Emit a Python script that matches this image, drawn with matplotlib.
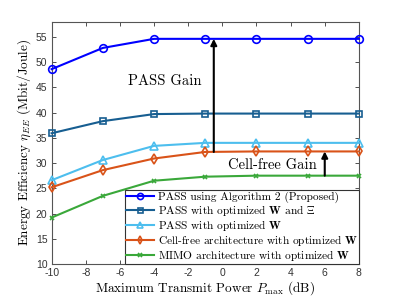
import matplotlib
matplotlib.use("Agg")
import matplotlib.pyplot as plt

plt.rcParams['mathtext.fontset'] = 'cm'
plt.rcParams['axes.formatter.use_mathtext'] = False

p_max = [-10, -7, -4, -1, 2, 5, 8]
pass_alg2 = [48.6, 52.8, 54.6, 54.6, 54.6, 54.6, 54.6]
pass_w_xi = [35.9, 38.3, 39.7, 39.8, 39.8, 39.8, 39.8]
pass_w = [26.6, 30.6, 33.4, 34.0, 34.0, 34.0, 34.0]
cellfree_w = [25.2, 28.6, 30.9, 32.2, 32.3, 32.3, 32.3]
mimo_w = [19.2, 23.5, 26.5, 27.3, 27.5, 27.5, 27.5]

labels = [r'PASS using Algorithm 2 (Proposed)',
          r'PASS with optimized $\mathbf{W}$ and $\Xi$',
          r'PASS with optimized $\mathbf{W}$',
          r'Cell-free architecture with optimized $\mathbf{W}$',
          r'MIMO architecture with optimized $\mathbf{W}$']
xticks = [-10, -8, -6, -4, -2, 0, 2, 4, 6, 8]
yticks = [10, 15, 20, 25, 30, 35, 40, 45, 50, 55]

serif = 'cmr10'

fig = plt.figure(figsize=(3.97, 2.97), dpi=100)
ax = fig.add_axes([0.130, 0.111, 0.774, 0.816])

series = [pass_alg2, pass_w_xi, pass_w, cellfree_w, mimo_w]
colors = ['#0000FF', '#175E91', '#4DBEEE', '#D95319', '#3AA83A']
markers = ['o', 's', '^', 'd', 'x']
msizes = [5.5, 4.5, 6, 5, 3.5]
for y, c, m, ms, lab in zip(series, colors, markers, msizes, labels):
    ax.plot(p_max, y, color=c, marker=m, markersize=ms, markerfacecolor='none',
            markeredgewidth=1.2, linewidth=1.5, label=lab, clip_on=False, zorder=3)

ax.set_xlim(-10, 8)
ax.set_ylim(10, 58)
ax.set_xticks(xticks)
ax.set_yticks(yticks)
ax.set_xticklabels([str(t) for t in xticks], family='Liberation Sans')
ax.set_yticklabels([str(t) for t in yticks], family='Liberation Sans')
ax.tick_params(direction='in', top=True, right=True, labelsize=7.5, colors='#333333',
               length=3, width=0.6, pad=3)
for s in ax.spines.values():
    s.set_color('#555555')
    s.set_linewidth(0.8)

ax.set_xlabel(r'Maximum Transmit Power $P_{\max}$ (dB)', family=serif, fontsize=9.5, labelpad=1)
ax.set_ylabel(r'Energy Efficiency $\eta_{EE}$ (Mbit/Joule)', family=serif, fontsize=9.5, labelpad=2)

# Gain arrows
ax.annotate('', xy=(-0.5, 54.6), xytext=(-0.5, 32.2),
            arrowprops=dict(arrowstyle='-|>', color='black', lw=1.5, mutation_scale=9,
                            shrinkA=0, shrinkB=0), zorder=4)
ax.annotate('', xy=(6.0, 32.3), xytext=(6.0, 27.5),
            arrowprops=dict(arrowstyle='-|>', color='black', lw=1.5, mutation_scale=9,
                            shrinkA=0, shrinkB=0), zorder=4)
ax.text(-5.5, 46.2, 'PASS Gain', family=serif, fontsize=10.5, ha='left', va='center')
ax.text(2.95, 29.6, 'Cell-free Gain', family=serif, fontsize=10.5, ha='center', va='center')

leg = ax.legend(loc='lower right', prop={'family': serif, 'size': 8.2}, frameon=True,
                fancybox=False, edgecolor='#333333', framealpha=1, borderaxespad=0,
                handlelength=2.5, labelspacing=0.0, borderpad=0.1, handletextpad=0.3,
                markerscale=0.8)
leg.get_frame().set_linewidth(0.8)
leg.set_zorder(5)

fig.savefig('out.png', dpi=100)
